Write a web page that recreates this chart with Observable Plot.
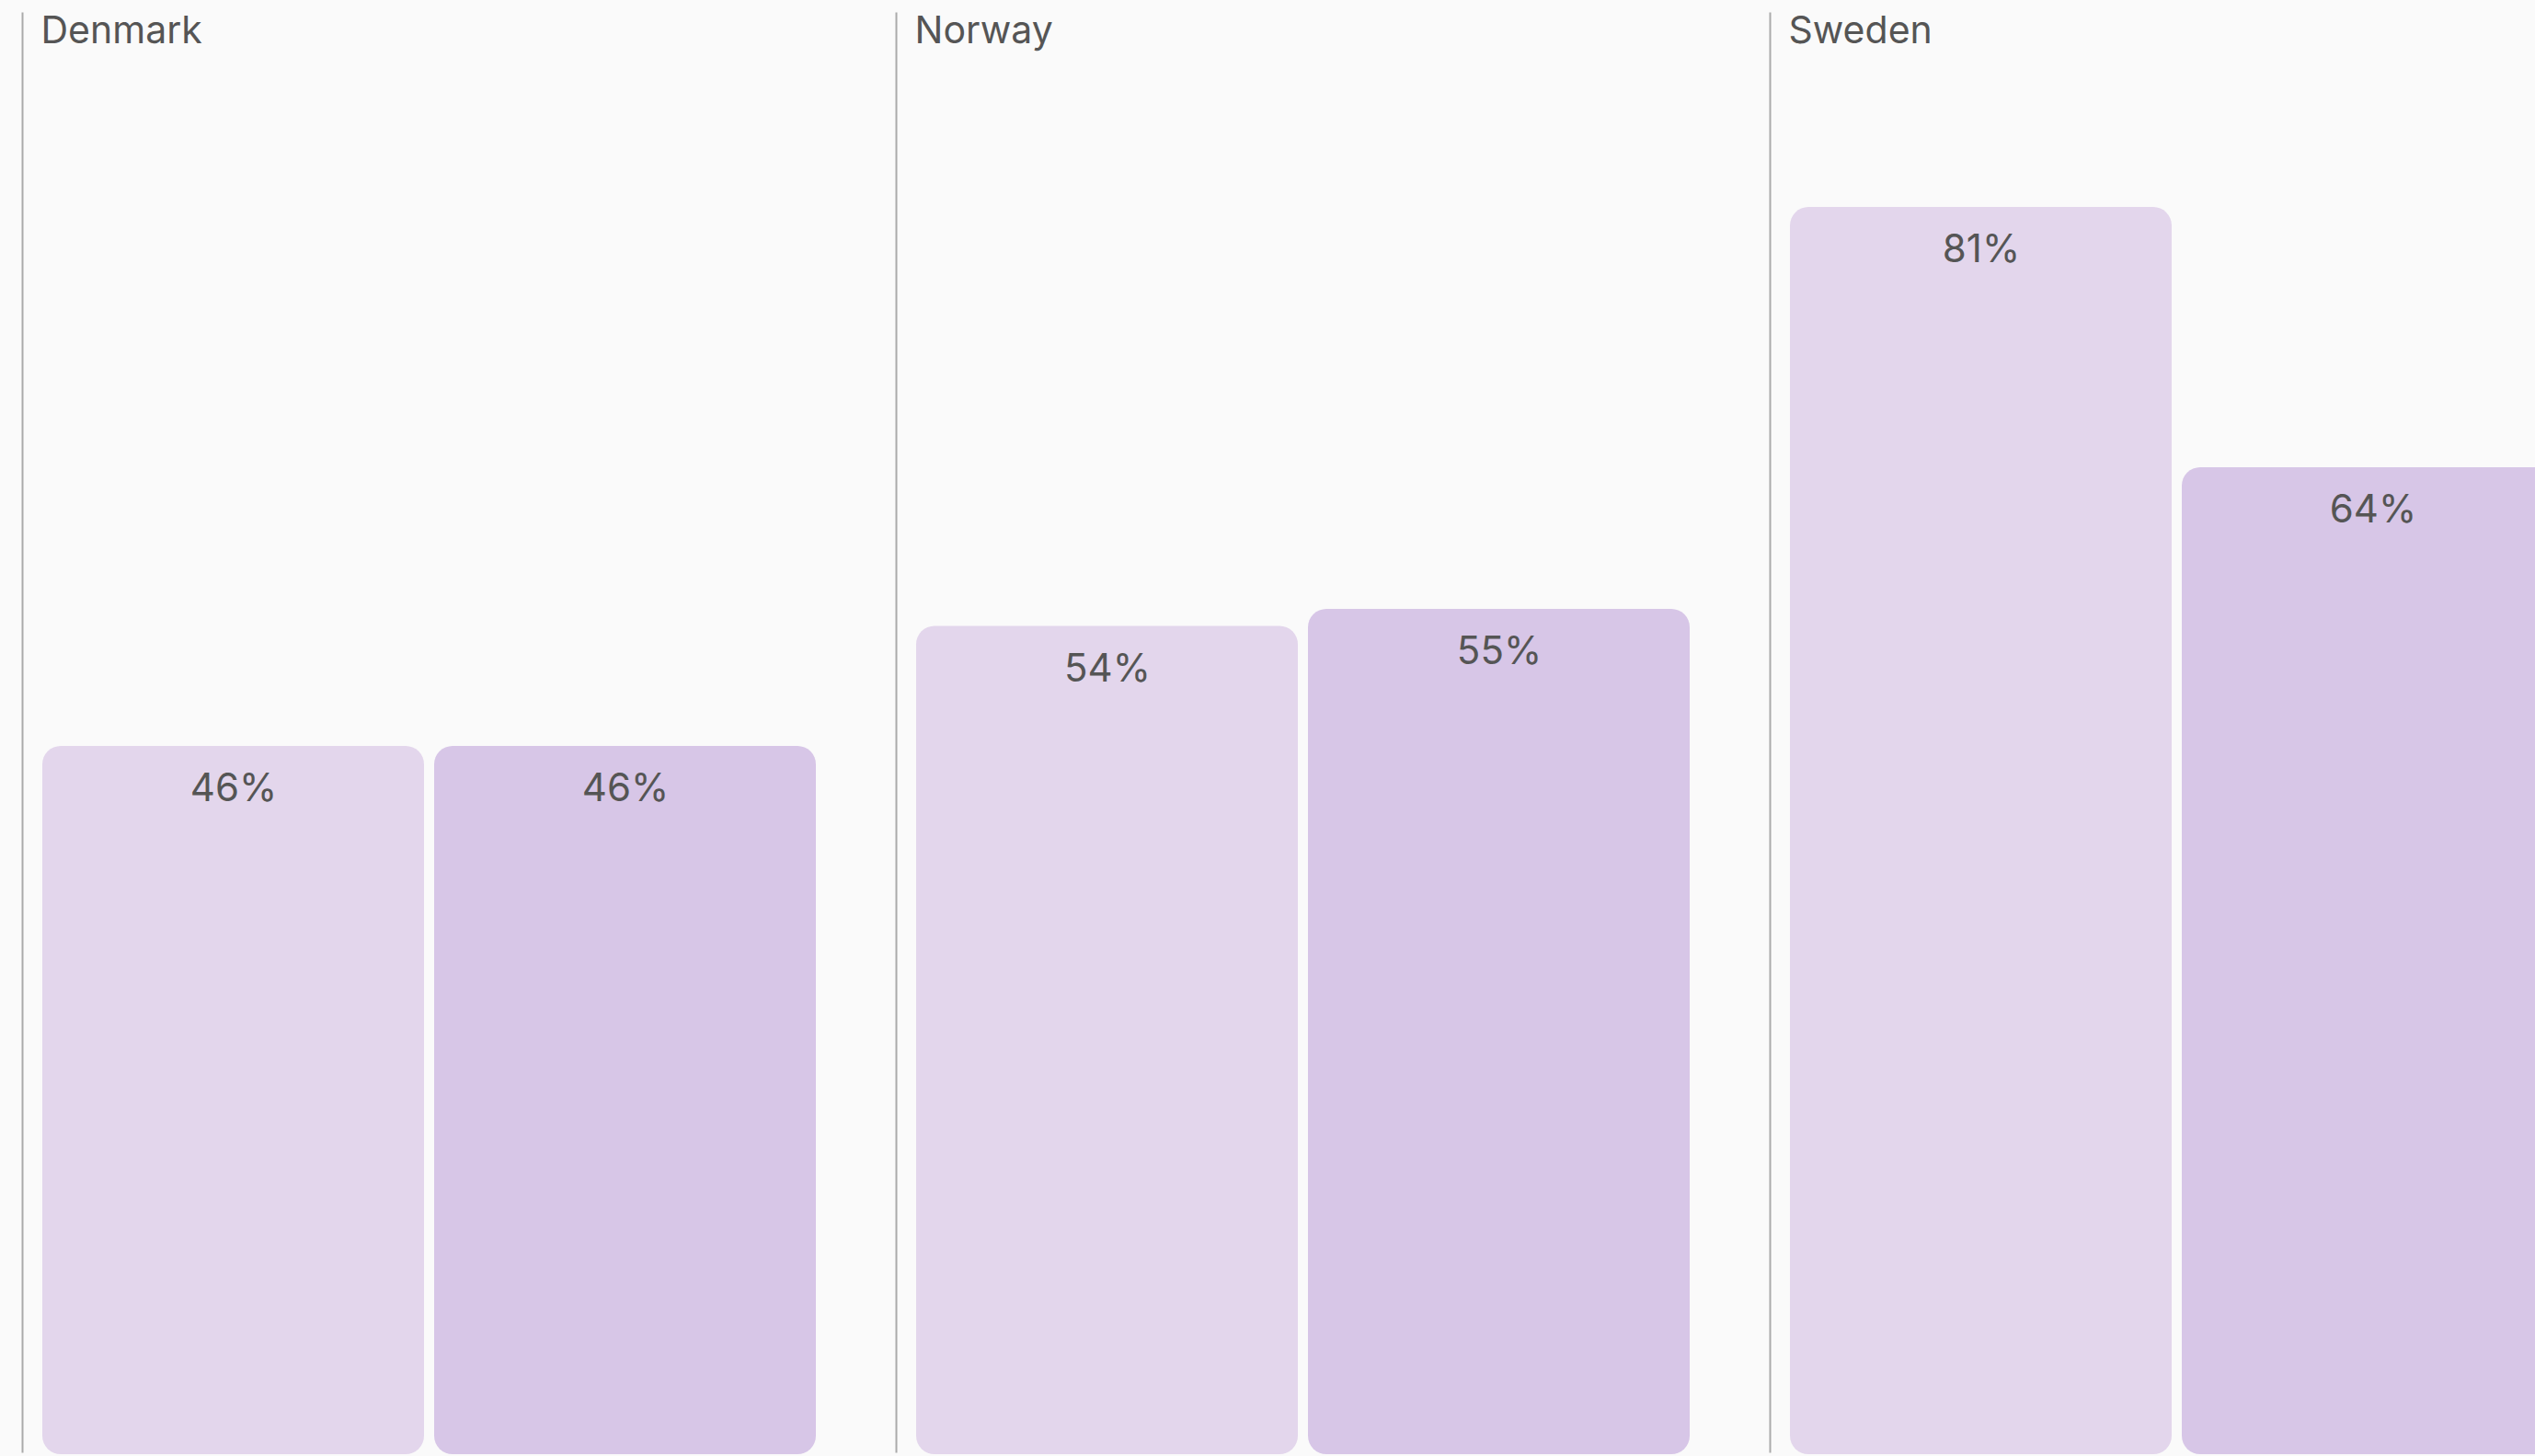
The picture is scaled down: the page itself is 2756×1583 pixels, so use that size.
<!DOCTYPE html>
<html>
<head>
<meta charset="utf-8">
<script src="https://cdn.jsdelivr.net/npm/d3@7"></script>
<script src="https://cdn.jsdelivr.net/npm/@observablehq/plot@0.6"></script>
<style>
  html, body { margin: 0; padding: 0; background: #fafafa; overflow: hidden; }
  #chart { width: 2756px; height: 1583px; overflow: hidden; }
  #chart svg { display: block; max-width: none !important; width: 2810px !important; height: 1583px !important; }
</style>
</head>
<body>
<div id="chart"></div>
<script>
const countries = ["Denmark", "Norway", "Sweden"];
const seriesNames = ["Series 1", "Series 2"];
const series1Values = [46, 53.8, 81];
const series2Values = [46, 54.9, 64.1];
const seriesColors = ["#e3d6ec", "#d7c6e7"];

const data = [];
countries.forEach((c, i) => {
  data.push({country: c, series: seriesNames[0], value: series1Values[i]});
  data.push({country: c, series: seriesNames[1], value: series2Values[i]});
});

const chart = Plot.plot({
  width: 2810,
  height: 1583,
  marginLeft: 24,
  marginRight: 0,
  marginTop: 14,
  marginBottom: 5,
  style: {background: "#fafafa", fontFamily: "Inter, 'Noto Sans', sans-serif", maxWidth: "none"},
  fx: {domain: countries, paddingInner: 64 / 950, paddingOuter: 0, axis: null},
  x: {domain: seriesNames, paddingInner: 0.0258, paddingOuter: 0.0528, axis: null},
  y: {domain: [0, 100], range: [1581, -93], axis: null},
  color: {domain: seriesNames, range: seriesColors},
  marks: [
    Plot.frame({anchor: "left", stroke: "#aaaaaa", strokeWidth: 2}),
    Plot.barY(data, {fx: "country", x: "series", y: "value", fill: "series", rx: 20}),
    Plot.text(data, {
      fx: "country", x: "series", y: "value",
      text: d => `${Math.round(d.value)}%`,
      lineAnchor: "top", dy: 30, fontSize: 42, fill: "#555555"
    }),
    Plot.text(countries, {
      fx: d => d, text: d => d,
      frameAnchor: "top-left", lineAnchor: "top",
      dx: 20, dy: 3.5, fontSize: 41, fill: "#555555"
    })
  ]
});
document.getElementById("chart").appendChild(chart);
</script>
</body>
</html>
